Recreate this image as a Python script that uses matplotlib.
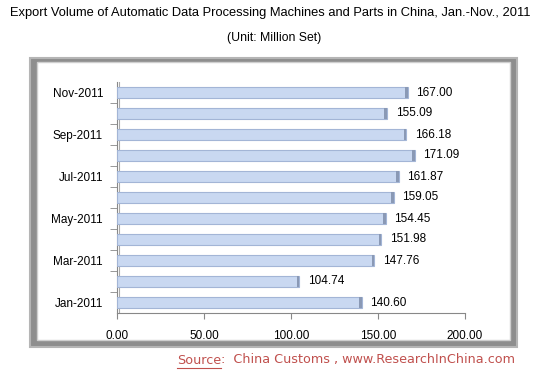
import matplotlib
matplotlib.use("Agg")
import matplotlib.pyplot as plt
from matplotlib.patches import Rectangle

# data, Jan -> Nov 2011
months = ["Jan-2011", "Feb-2011", "Mar-2011", "Apr-2011", "May-2011", "Jun-2011",
          "Jul-2011", "Aug-2011", "Sep-2011", "Oct-2011", "Nov-2011"]
volumes = [140.60, 104.74, 147.76, 151.98, 154.45, 159.05,
           161.87, 171.09, 166.18, 155.09, 167.00]
xticks = [0, 50, 100, 150, 200]

plt.rcParams['font.family'] = ['Liberation Sans', 'DejaVu Sans']

W, H = 549.0, 374.0
fig = plt.figure(figsize=(5.49, 3.74), dpi=100)
fig.patch.set_facecolor("white")


def px_rect(x0, y0, x1, y1, **kw):
    # rectangle given in pixel coords from the top-left corner
    return Rectangle((x0 / W, 1 - y1 / H), (x1 - x0) / W, (y1 - y0) / H,
                     transform=fig.transFigure, **kw)


# outer chart frame with thick gray border
fig.patches.append(px_rect(30, 58, 517, 347, facecolor="#8e8e8e", edgecolor="#b5b5b5",
                           linewidth=1.5, zorder=0))
fig.patches.append(px_rect(37, 62, 510, 340, facecolor="white", edgecolor="#cfcfcf",
                           linewidth=1, zorder=1))

ax = fig.add_axes([117 / W, 1 - 313 / H, 348 / W, 231 / H])
ax.set_facecolor("none")
ax.set_zorder(2)

ypos = list(range(len(months)))
ax.barh(ypos, volumes, height=0.48, color="#c9d8f1", edgecolor="#a3b5d6",
        linewidth=0.8, zorder=3)
# darker end caps for the 3d look
ax.barh(ypos, [1.4] * len(volumes), left=[v - 1.4 for v in volumes], height=0.48,
        color="#8a99b5", edgecolor="none", zorder=4)

for y, v in zip(ypos, volumes):
    ax.text(v + 5, y, "%.2f" % v, va="center", ha="left", fontsize=8.5,
            color="black", zorder=5)

ax.set_xlim(0, 200)
ax.set_ylim(-0.5, 10.5)
ax.set_xticks(xticks)
ax.set_xticklabels(["%.2f" % t for t in xticks], fontsize=8.5)
ax.set_yticks(ypos[::2])
ax.set_yticklabels(months[::2], fontsize=8.5)
ax.set_yticks([y + 0.5 for y in ypos[:-1]], minor=True)
ax.tick_params(axis="y", which="major", length=0, pad=10)
ax.tick_params(axis="y", which="minor", length=5, color="#888888")
ax.tick_params(axis="x", length=4, color="#888888", pad=8)
for s in ["top", "right"]:
    ax.spines[s].set_visible(False)
ax.spines["left"].set_color("#888888")
ax.spines["bottom"].set_color("#888888")
# back wall line of the 3d plot
ax.axvline(1.2, color="#aaaaaa", linewidth=0.8, zorder=1)

fig.text(270 / W, 1 - 13 / H,
         "Export Volume of Automatic Data Processing Machines and Parts in China, Jan.-Nov., 2011",
         ha="center", va="center", fontsize=9.3)
fig.text(0.5, 1 - 38 / H, "(Unit: Million Set)", ha="center", va="center", fontsize=8.8)

# source line: "Source" underlined, the rest placed right after it
src_color = "#c0504d"
src = fig.text(177 / W, 1 - 360 / H, "Source", ha="left", va="center",
               fontsize=9.2, color=src_color, family="DejaVu Sans")
renderer = fig.canvas.get_renderer()
bb = src.get_window_extent(renderer)
fig.text(bb.x1 / fig.bbox.width, 1 - 360 / H, ":  China Customs , www.ResearchInChina.com",
         ha="left", va="center", fontsize=9.2, color=src_color, family="DejaVu Sans")
fig.add_artist(plt.Line2D([bb.x0 / fig.bbox.width, bb.x1 / fig.bbox.width],
                          [(bb.y0 - 1) / fig.bbox.height] * 2,
                          transform=fig.transFigure, color=src_color, linewidth=0.8))

fig.savefig("out.png", dpi=100)
